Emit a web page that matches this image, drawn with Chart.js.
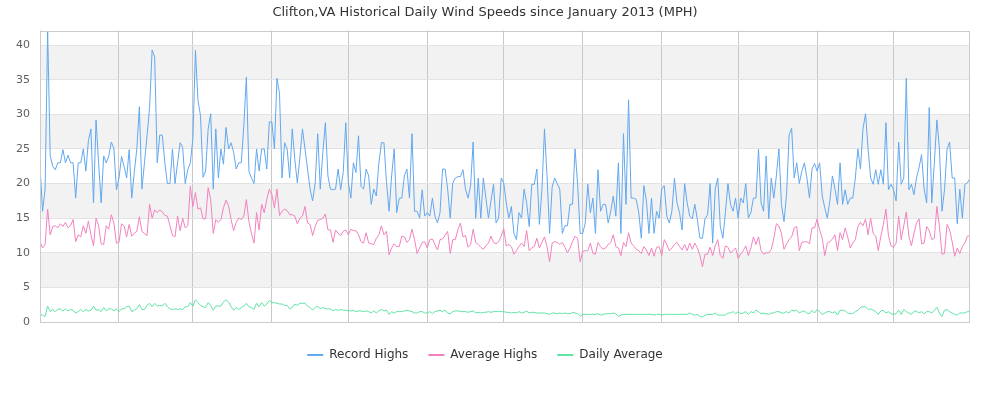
<!DOCTYPE html>
<html>
<head>
<meta charset="utf-8">
<script src="https://cdn.jsdelivr.net/npm/chart.js@4.4.0/dist/chart.umd.min.js"></script>
<style>
  html, body { margin: 0; padding: 0; background: #fff; }
  #wrap { width: 1000px; height: 400px; }
</style>
</head>
<body>
<div id="wrap"><canvas id="windChart"></canvas></div>
<script>
const monthLabels = ["Jan", "Feb", "Mar", "Apr", "May", "Jun", "Jul", "Aug", "Sep", "Oct", "Nov", "Dec"];
const monthStarts = [0, 31, 60, 91, 121, 152, 182, 213, 244, 274, 305, 335];

// one value per day of the year (366 days, Jan 1 .. Dec 31)
const recordHighs = [
  22.5, 16, 19.2, 42, 24, 22.5, 22, 23, 23, 24.9, 23, 24.1, 23, 23, 17.9, 23, 23, 25, 21.8, 26.2, 27.9, 17.2, 29.2, 23, 17.2, 24, 23, 24, 26, 25.1, 19.1, 20.8, 23.9,
  22.5, 20.8, 24.9, 17.9, 21.6, 25.0, 31.1, 19.2, 23.0, 26.9, 30.8, 39.3, 38.3, 23.0, 27.0, 27.0, 23.0, 20.0, 20.0, 25.0, 20.0, 23.0, 25.9, 25.2, 20.0, 22.0, 23.0, 26.5, 39.3, 32, 29.8, 20.9, 21.8,
  27.9, 30.1, 19.2, 27.9, 20.8, 25.0, 22.8, 28.1, 25.0, 25.9, 24.5, 22.1, 23.0, 23.0, 28.4, 35.4, 21.8, 20.8, 20.0, 25.0, 21.8, 25.0, 25.0, 22.1, 28.9, 28.9, 25.0, 35.2, 33.0, 20.8, 25.9, 25.0, 20.8, 27.9,
  23.5, 20.1, 23.8, 27.9, 25.0, 22.1, 19.2, 17.5, 20.1, 27.2, 19.2, 24.5, 28.8, 21.1, 19.2, 19.1, 19.2, 22.1, 19.1, 21.6, 28.8, 20.1, 17.9, 23.0, 21.6, 26.9, 19.6, 19.2, 22.1, 21.1, 17.0, 19.2, 18.2, 23.0,
  25.9, 25.9, 20.1, 16.0, 21.1, 25.0, 15.8, 17.9, 17.9, 21.1, 22.1, 17.9, 27.2, 16.0, 16.0, 15.0, 19.1, 15.3, 15.8, 15.3, 17.9, 15.3, 14.3, 15.8, 22.1, 22.1, 19.2, 15.0, 20.1, 20.8, 21.0, 21.0, 22.0, 19.2,
  17.9, 19.7, 26.0, 15.0, 20.8, 15.0, 20.8, 17.9, 15.0, 17.5, 19.9, 14.3, 15.0, 20.8, 20.1, 17.2, 15.0, 16.7, 12.8, 11.9, 15.8, 15.0, 19.2, 17.2, 13.8, 19.9, 19.9, 22.1, 14.1, 19.2, 27.9, 21.1, 12.8, 19.5,
  20.8, 20.0, 19.2, 12.8, 13.9, 13.9, 17.0, 17.0, 25.0, 19.9, 12.8, 12.8, 14.3, 19.9, 15.8, 17.9, 12.8, 22.0, 16.0, 17.0, 17.0, 14.3, 16.0, 18.2, 15.3, 23.0, 12.8, 27.2, 17.0, 32.1, 17.9, 17.9, 17.7,
  15.8, 12.1, 19.7, 17.5, 12.8, 17.9, 12.8, 16.0, 15.0, 19.2, 19.7, 15.3, 14.3, 16.0, 20.8, 17.2, 15.8, 13.3, 20.0, 17.2, 15.3, 14.9, 17.0, 14.8, 12.1, 12.1, 14.9, 15.5, 20.0, 11.4, 19.2, 20.8, 13.8, 12.1,
  15.8, 20.0, 17.0, 16.0, 17.9, 15.0, 17.9, 17.2, 20.0, 15.0, 15.8, 17.9, 17.9, 25.0, 17.2, 16.0, 24.0, 14.9, 20.8, 17.9, 21.1, 25.0, 17.0, 14.5, 18.4, 27.0, 28.0, 20.8, 23.0, 20.0, 21.8, 23.0, 20.8, 17.9,
  22.1, 22.9, 21.8, 23.0, 18.2, 16.5, 15.0, 17.5, 21.1, 19.2, 17.0, 23.0, 17.0, 19.1, 17.0, 17.9, 17.9, 20.8, 25.0, 22.1, 27.9, 30.1, 25.0, 20.8, 19.9, 22.0, 19.9, 22.0, 19.9, 28.8, 19.1, 19.9, 19.1, 17.5,
  26.0, 19.9, 20.8, 35.2, 19.1, 19.9, 18.4, 20.8, 22.3, 24.2, 19.2, 17.2, 31.0, 17.2, 23.0, 29.2, 25.0, 16.0, 19.1, 25.0, 26.0, 20.8, 20.8, 14.2, 19.2, 15.0, 19.9, 20.1, 20.8
];

const averageHighs = [
  11.6, 10.7, 11.2, 16.3, 12.6, 13.8, 13.9, 13.6, 14.2, 13.8, 14.4, 13.6, 13.9, 14.8, 11.6, 12.6, 12.3, 13.9, 12.8, 14.6, 12.6, 11.0, 15.0, 13.9, 11.3, 11.2, 13.9, 13.4, 15.5, 14.3, 11.4, 11.5, 14.2,
  13.9, 12.3, 14.1, 12.4, 12.8, 13.1, 15.2, 13.1, 12.8, 12.5, 17.0, 15.0, 16.2, 15.8, 16.2, 15.9, 15.4, 15.3, 13.9, 12.5, 12.3, 15.3, 13.2, 15.0, 13.6, 13.9, 19.6, 16.7, 18.7, 16.3, 16.5, 14.9, 14.9,
  19.4, 17.7, 12.8, 14.8, 14.4, 14.8, 16.5, 17.6, 16.8, 14.8, 13.2, 14.4, 15.0, 14.8, 15.3, 17.7, 14.5, 12.8, 11.4, 15.8, 13.3, 17.0, 15.8, 17.7, 19.2, 18.4, 16.5, 19.2, 15.4, 16.0, 16.3, 16.1, 15.5, 15.5,
  15.3, 14.2, 15.0, 15.3, 16.7, 14.3, 14.1, 12.5, 13.8, 14.7, 14.8, 15.0, 15.6, 13.3, 13.3, 11.5, 13.3, 12.8, 12.5, 13.1, 13.3, 12.6, 13.4, 13.2, 13.2, 12.6, 11.6, 11.4, 12.9, 11.4, 11.3, 11.2, 12.1, 12.6,
  13.9, 12.6, 13.1, 9.7, 10.7, 11.3, 10.9, 10.9, 12.4, 12.3, 11.5, 11.9, 13.4, 11.9, 9.9, 10.7, 11.5, 11.6, 10.7, 11.9, 12.0, 11.2, 10.4, 11.9, 12.0, 12.5, 13.1, 9.9, 11.9, 11.9, 13.3, 14.3, 12.3, 12.5,
  10.8, 11.2, 13.4, 11.5, 11.2, 10.8, 10.5, 11.0, 11.4, 12.4, 11.5, 11.3, 11.6, 12.4, 13.5, 11.0, 11.2, 10.9, 9.8, 10.3, 10.9, 11.4, 10.9, 13.2, 10.3, 10.7, 10.9, 12.1, 10.7, 11.5, 12.3, 10.9, 8.7, 11.4,
  11.6, 11.5, 11.2, 11.5, 10.8, 10.0, 10.7, 11.6, 12.4, 12.1, 8.7, 10.2, 10.3, 10.3, 11.4, 9.9, 9.8, 11.5, 10.9, 10.5, 10.7, 11.2, 11.5, 12.6, 10.9, 10.7, 9.6, 11.5, 10.9, 12.9, 11.4, 11.0, 10.5,
  10.3, 9.9, 10.9, 10.4, 9.6, 10.7, 9.5, 10.8, 10.9, 9.6, 11.9, 11.2, 10.3, 10.7, 11.2, 11.5, 10.9, 10.4, 11.2, 10.3, 11.4, 10.5, 11.4, 10.7, 9.6, 8.0, 9.8, 9.8, 10.8, 9.6, 11.0, 11.9, 9.6, 9.2,
  11.0, 10.8, 10.0, 10.3, 10.7, 9.2, 9.8, 10.3, 11.0, 9.6, 10.7, 12.3, 11.2, 12.3, 10.3, 9.8, 10.0, 10.0, 10.5, 12.1, 14.2, 13.9, 12.8, 10.5, 11.3, 11.9, 12.3, 13.6, 13.8, 10.3, 11.5, 11.6, 11.6, 11.3,
  13.6, 13.6, 14.9, 13.3, 12.1, 9.6, 11.4, 11.6, 12.0, 12.6, 10.3, 12.9, 11.9, 13.6, 12.3, 10.7, 11.4, 11.9, 13.8, 14.4, 13.9, 14.9, 12.6, 15.0, 12.8, 12.4, 10.3, 12.4, 14.1, 16.3, 12.5, 11.0, 10.8, 11.4,
  15.3, 11.9, 13.9, 15.9, 12.4, 11.0, 12.8, 14.3, 14.9, 11.3, 11.4, 13.8, 13.2, 11.9, 12.1, 16.7, 13.8, 9.8, 9.9, 14.1, 13.3, 11.6, 9.5, 10.7, 9.9, 10.9, 11.4, 12.4, 12.5
];

const dailyAverage = [
  1.1, 1.0, 0.8, 2.3, 1.5, 1.8, 1.5, 1.8, 1.9, 1.6, 1.9, 1.6, 1.8, 1.7, 1.3, 1.5, 1.8, 1.5, 1.8, 1.6, 1.7, 2.3, 1.7, 1.8, 1.5, 2.1, 1.6, 1.9, 1.9, 1.6, 1.9, 1.5, 1.9,
  1.9, 2.2, 2.3, 1.5, 1.7, 1.9, 2.5, 1.8, 1.8, 2.4, 2.7, 2.2, 2.7, 2.3, 2.4, 2.3, 2.7, 2.2, 1.9, 1.8, 1.9, 1.8, 1.9, 1.8, 2.2, 2.2, 2.8, 2.3, 3.2, 2.8, 2.4, 2.2, 2.1,
  2.8, 2.4, 1.7, 2.3, 2.3, 2.3, 2.9, 3.2, 2.9, 2.2, 1.7, 2.1, 1.8, 2.1, 2.3, 2.7, 2.2, 2.1, 1.8, 2.7, 2.2, 2.8, 2.3, 2.6, 3.1, 2.8, 2.8, 2.7, 2.6, 2.6, 2.4, 2.4, 1.9, 2.1,
  2.6, 2.4, 2.7, 2.7, 2.7, 2.3, 2.1, 1.7, 2.1, 2.3, 1.9, 2.1, 1.9, 1.9, 1.9, 1.6, 1.8, 1.7, 1.8, 1.7, 1.7, 1.6, 1.6, 1.7, 1.5, 1.6, 1.6, 1.5, 1.6, 1.5, 1.3, 1.6, 1.3, 1.6,
  1.8, 1.6, 1.7, 1.1, 1.5, 1.3, 1.5, 1.5, 1.5, 1.6, 1.7, 1.6, 1.5, 1.3, 1.3, 1.5, 1.5, 1.3, 1.3, 1.5, 1.2, 1.5, 1.6, 1.7, 1.5, 1.7, 1.3, 1.2, 1.5, 1.6, 1.6, 1.5, 1.5, 1.5,
  1.4, 1.5, 1.6, 1.3, 1.4, 1.3, 1.4, 1.4, 1.5, 1.4, 1.5, 1.5, 1.5, 1.5, 1.5, 1.4, 1.4, 1.3, 1.4, 1.3, 1.5, 1.3, 1.4, 1.6, 1.3, 1.4, 1.4, 1.3, 1.3, 1.3, 1.3, 1.2, 1.1, 1.3,
  1.3, 1.2, 1.3, 1.2, 1.3, 1.2, 1.2, 1.4, 1.3, 1.2, 0.8, 1.1, 1.1, 1.1, 1.1, 1.1, 1.1, 1.2, 1.0, 1.1, 1.2, 1.2, 1.2, 1.3, 1.2, 0.8, 1.0, 1.1, 1.1, 1.1, 1.1, 1.1, 1.1,
  1.1, 1.1, 1.1, 1.1, 1.1, 1.1, 1.0, 1.1, 1.1, 1.0, 1.1, 1.1, 1.1, 1.1, 1.1, 1.1, 1.1, 1.1, 1.1, 1.1, 1.3, 1.1, 1.0, 1.1, 0.8, 0.7, 1.0, 1.1, 1.1, 1.1, 1.3, 1.0, 1.0, 1.0,
  1.0, 1.3, 1.3, 1.5, 1.2, 1.5, 1.2, 1.3, 1.5, 1.1, 1.5, 1.3, 1.7, 1.5, 1.2, 1.3, 1.2, 1.1, 1.3, 1.3, 1.5, 1.5, 1.3, 1.3, 1.5, 1.3, 1.7, 1.6, 1.7, 1.3, 1.5, 1.6, 1.3, 1.2,
  1.7, 1.3, 1.8, 1.5, 1.1, 1.3, 1.5, 1.5, 1.3, 1.5, 1.0, 1.7, 1.7, 1.6, 1.3, 1.2, 1.2, 1.5, 1.7, 2.1, 2.2, 2.2, 1.8, 1.9, 1.7, 1.5, 1.1, 1.6, 1.7, 1.3, 1.5, 1.2, 1.1, 1.2,
  1.7, 1.1, 1.8, 1.5, 1.3, 1.1, 1.5, 1.6, 1.3, 1.5, 1.2, 1.5, 1.5, 1.3, 1.7, 2.1, 1.3, 0.8, 1.7, 1.8, 1.5, 1.3, 1.1, 1.0, 1.3, 1.3, 1.3, 1.5, 1.6
];

// alternate shaded bands on the y axis
const shadedBands = [[5, 10], [15, 20], [25, 30], [35, 40]];

const toPoints = arr => arr.map((v, i) => ({ x: i, y: v }));

const plotDecor = {
  id: "plotDecor",
  beforeDraw(chart) {
    const { ctx, chartArea: a, scales: { y } } = chart;
    ctx.save();
    ctx.fillStyle = "#f2f2f2";
    shadedBands.forEach(([lo, hi]) => {
      const top = y.getPixelForValue(hi);
      const bottom = y.getPixelForValue(lo);
      ctx.fillRect(a.left, top, a.right - a.left, bottom - top);
    });
    ctx.restore();
  },
  afterDraw(chart) {
    const { ctx, chartArea: a } = chart;
    ctx.save();
    ctx.strokeStyle = "#cccccc";
    ctx.lineWidth = 1;
    ctx.strokeRect(Math.round(a.left) + 0.5, Math.round(a.top) + 0.5,
      Math.round(a.right - a.left) - 1, Math.round(a.bottom - a.top));
    ctx.restore();
  }
};

Chart.defaults.font.family = "'DejaVu Sans', sans-serif";

const ctx = document.getElementById("windChart").getContext("2d");
const windChart = new Chart(ctx, {
  type: "line",
  data: {
    datasets: [
      {
        label: "Record Highs",
        data: toPoints(recordHighs),
        borderColor: "#62a8ef",
        backgroundColor: "#62a8ef",
        borderWidth: 1,
        pointRadius: 0,
        pointStyle: "line",
        tension: 0,
      },
      {
        label: "Average Highs",
        data: toPoints(averageHighs),
        borderColor: "#f282bf",
        backgroundColor: "#f282bf",
        borderWidth: 1,
        pointRadius: 0,
        pointStyle: "line",
        tension: 0,
      },
      {
        label: "Daily Average",
        data: toPoints(dailyAverage),
        borderColor: "#5fe3a5",
        backgroundColor: "#5fe3a5",
        borderWidth: 1,
        pointRadius: 0,
        pointStyle: "line",
        tension: 0,
      },
    ],
  },
  options: {
    responsive: true,
    maintainAspectRatio: false,
    animation: false,
    layout: { padding: { left: 0, right: 30, top: 0, bottom: 29 } },
    scales: {
      x: {
        type: "linear",
        min: 0,
        max: 365,
        afterBuildTicks: scale => {
          scale.ticks = monthStarts.map(v => ({ value: v }));
        },
        afterFit: scale => { scale.height = 7; },
        ticks: {
          autoSkip: false,
          maxRotation: 0,
          padding: 8,
          color: "#606060",
          font: { size: 11 },
          callback: (value, index) => monthLabels[index],
        },
        grid: { color: "#c8c8c8", drawTicks: false },
        border: { display: false },
      },
      y: {
        min: 0,
        max: 42.1,
        afterFit: scale => { scale.width = 40; },
        ticks: {
          stepSize: 5,
          includeBounds: false,
          padding: 10,
          color: "#606060",
          font: { size: 11 },
        },
        grid: { color: "#e3e3e3", drawTicks: false },
        border: { display: false },
      },
    },
    plugins: {
      title: {
        display: true,
        text: "Clifton,VA Historical Daily Wind Speeds since January 2013 (MPH)",
        color: "#333333",
        font: { size: 13, weight: "normal" },
        padding: { top: 5, bottom: 10 },
      },
      legend: {
        position: "bottom",
        labels: {
          usePointStyle: true,
          pointStyleWidth: 16,
          padding: 20,
          color: "#333333",
          font: { size: 12 },
          generateLabels: chart =>
            Chart.defaults.plugins.legend.labels.generateLabels(chart).map(l => ({ ...l, lineWidth: 2 })),
        },
      },
      tooltip: { enabled: false },
    },
  },
  plugins: [plotDecor],
});
</script>
</body>
</html>
